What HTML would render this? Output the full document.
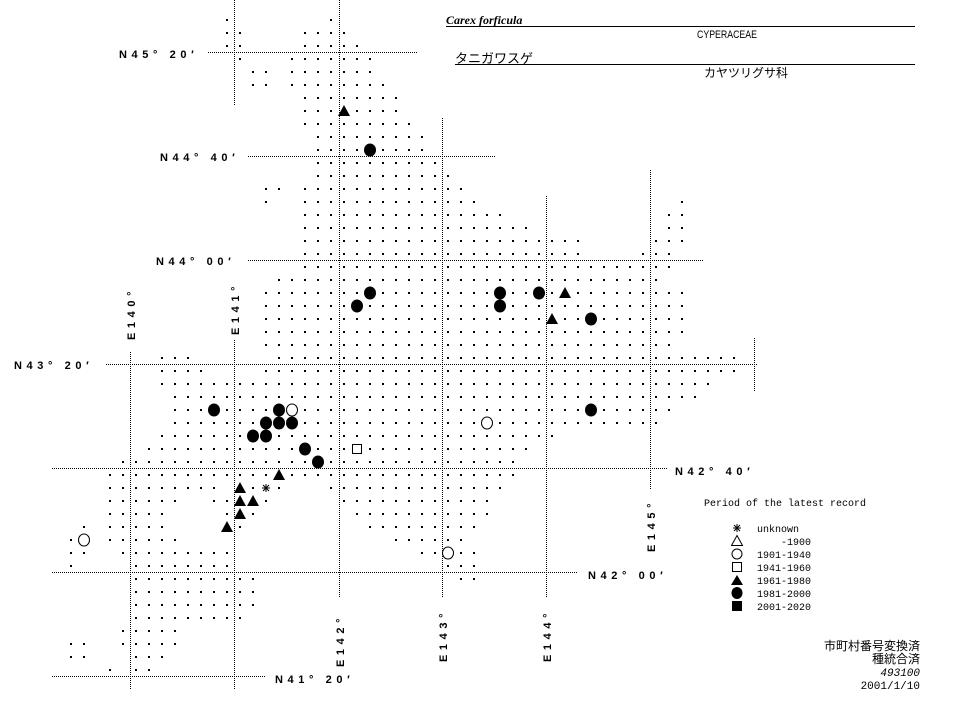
<!DOCTYPE html>
<html><head><meta charset="utf-8"><style>
html,body{margin:0;padding:0;background:#fff;}
svg{display:block;}
.lab{font-family:"Liberation Sans",sans-serif;font-weight:bold;font-size:11px;letter-spacing:4.6px;fill:#000;}
.leg{font-family:"Liberation Mono",monospace;font-size:10px;fill:#000;}
.jp{font-family:"Liberation Sans","Noto Sans CJK JP",sans-serif;fill:#000;}
</style></head><body>
<svg width="974" height="703" viewBox="0 0 974 703" xmlns="http://www.w3.org/2000/svg" shape-rendering="crispEdges">
<defs>
<pattern id="d" patternUnits="userSpaceOnUse" x="0" y="0" width="13" height="13" patternTransform="translate(226 19)">
<rect x="0" y="0" width="2" height="2" fill="#000"/>
</pattern>
</defs>
<rect width="974" height="703" fill="#fff"/>
<g stroke="#000" stroke-width="1" stroke-dasharray="1 1" fill="none">
<line x1="208" y1="52.5" x2="417" y2="52.5"/>
<line x1="248" y1="156.5" x2="495" y2="156.5"/>
<line x1="248" y1="260.5" x2="703" y2="260.5"/>
<line x1="106" y1="364.5" x2="758" y2="364.5"/>
<line x1="52" y1="468.5" x2="668" y2="468.5"/>
<line x1="52" y1="572.5" x2="577" y2="572.5"/>
<line x1="52" y1="676.5" x2="265" y2="676.5"/>
<line x1="234.5" y1="0" x2="234.5" y2="105"/>
<line x1="234.5" y1="340" x2="234.5" y2="690"/>
<line x1="339.5" y1="0" x2="339.5" y2="598"/>
<line x1="442.5" y1="118" x2="442.5" y2="598"/>
<line x1="546.5" y1="196" x2="546.5" y2="598"/>
<line x1="650.5" y1="170" x2="650.5" y2="490"/>
<line x1="754.5" y1="338" x2="754.5" y2="392"/>
<line x1="130.5" y1="352" x2="130.5" y2="690"/>
</g>
<g fill="url(#d)">
<rect x="226" y="19" width="13" height="13"/><rect x="330" y="19" width="13" height="13"/>
<rect x="226" y="32" width="26" height="13"/><rect x="304" y="32" width="52" height="13"/>
<rect x="226" y="45" width="26" height="13"/><rect x="304" y="45" width="65" height="13"/>
<rect x="239" y="58" width="13" height="13"/><rect x="291" y="58" width="91" height="13"/>
<rect x="252" y="71" width="26" height="13"/><rect x="291" y="71" width="91" height="13"/>
<rect x="252" y="84" width="26" height="13"/><rect x="291" y="84" width="104" height="13"/>
<rect x="304" y="97" width="104" height="13"/>
<rect x="304" y="110" width="104" height="13"/>
<rect x="304" y="123" width="117" height="13"/>
<rect x="317" y="136" width="117" height="13"/>
<rect x="317" y="149" width="117" height="13"/>
<rect x="317" y="162" width="130" height="13"/>
<rect x="317" y="175" width="143" height="13"/>
<rect x="265" y="188" width="26" height="13"/><rect x="304" y="188" width="169" height="13"/>
<rect x="265" y="201" width="13" height="13"/><rect x="304" y="201" width="182" height="13"/><rect x="681" y="201" width="13" height="13"/>
<rect x="304" y="214" width="208" height="13"/><rect x="668" y="214" width="26" height="13"/>
<rect x="304" y="227" width="234" height="13"/><rect x="668" y="227" width="26" height="13"/>
<rect x="304" y="240" width="286" height="13"/><rect x="655" y="240" width="39" height="13"/>
<rect x="304" y="253" width="286" height="13"/><rect x="642" y="253" width="39" height="13"/>
<rect x="304" y="266" width="377" height="13"/>
<rect x="278" y="279" width="390" height="13"/>
<rect x="265" y="292" width="429" height="13"/>
<rect x="265" y="305" width="429" height="13"/>
<rect x="265" y="318" width="429" height="13"/>
<rect x="265" y="331" width="429" height="13"/>
<rect x="265" y="344" width="416" height="13"/>
<rect x="161" y="357" width="39" height="13"/><rect x="278" y="357" width="468" height="13"/>
<rect x="161" y="370" width="52" height="13"/><rect x="265" y="370" width="481" height="13"/>
<rect x="161" y="383" width="559" height="13"/>
<rect x="174" y="396" width="533" height="13"/>
<rect x="174" y="409" width="507" height="13"/>
<rect x="174" y="422" width="494" height="13"/>
<rect x="161" y="435" width="403" height="13"/>
<rect x="148" y="448" width="390" height="13"/>
<rect x="122" y="461" width="403" height="13"/>
<rect x="109" y="474" width="416" height="13"/>
<rect x="109" y="487" width="117" height="13"/><rect x="252" y="487" width="13" height="13"/><rect x="278" y="487" width="13" height="13"/><rect x="330" y="487" width="182" height="13"/>
<rect x="109" y="500" width="78" height="13"/><rect x="213" y="500" width="26" height="13"/><rect x="265" y="500" width="13" height="13"/><rect x="343" y="500" width="156" height="13"/>
<rect x="109" y="513" width="65" height="13"/><rect x="226" y="513" width="13" height="13"/><rect x="252" y="513" width="13" height="13"/><rect x="356" y="513" width="143" height="13"/>
<rect x="83" y="526" width="13" height="13"/><rect x="109" y="526" width="65" height="13"/><rect x="239" y="526" width="13" height="13"/><rect x="369" y="526" width="117" height="13"/>
<rect x="70" y="539" width="13" height="13"/><rect x="109" y="539" width="78" height="13"/><rect x="395" y="539" width="78" height="13"/>
<rect x="70" y="552" width="26" height="13"/><rect x="122" y="552" width="117" height="13"/><rect x="421" y="552" width="26" height="13"/><rect x="460" y="552" width="26" height="13"/>
<rect x="70" y="565" width="13" height="13"/><rect x="135" y="565" width="104" height="13"/><rect x="447" y="565" width="39" height="13"/>
<rect x="135" y="578" width="130" height="13"/><rect x="460" y="578" width="26" height="13"/>
<rect x="135" y="591" width="130" height="13"/>
<rect x="135" y="604" width="130" height="13"/>
<rect x="135" y="617" width="117" height="13"/>
<rect x="122" y="630" width="65" height="13"/>
<rect x="70" y="643" width="26" height="13"/><rect x="122" y="643" width="65" height="13"/>
<rect x="70" y="656" width="26" height="13"/><rect x="135" y="656" width="39" height="13"/>
<rect x="109" y="669" width="13" height="13"/><rect x="135" y="669" width="26" height="13"/>
</g>
<g shape-rendering="auto">
<g fill="#000">
<ellipse cx="370" cy="150" rx="6" ry="6.5"/>
<ellipse cx="370" cy="293" rx="6" ry="6.5"/>
<ellipse cx="500" cy="293" rx="6" ry="6.5"/>
<ellipse cx="539" cy="293" rx="6" ry="6.5"/>
<ellipse cx="357" cy="306" rx="6" ry="6.5"/>
<ellipse cx="500" cy="306" rx="6" ry="6.5"/>
<ellipse cx="591" cy="319" rx="6" ry="6.5"/>
<ellipse cx="214" cy="410" rx="6" ry="6.5"/>
<ellipse cx="279" cy="410" rx="6" ry="6.5"/>
<ellipse cx="591" cy="410" rx="6" ry="6.5"/>
<ellipse cx="266" cy="423" rx="6" ry="6.5"/>
<ellipse cx="279" cy="423" rx="6" ry="6.5"/>
<ellipse cx="292" cy="423" rx="6" ry="6.5"/>
<ellipse cx="253" cy="436" rx="6" ry="6.5"/>
<ellipse cx="266" cy="436" rx="6" ry="6.5"/>
<ellipse cx="305" cy="449" rx="6" ry="6.5"/>
<ellipse cx="318" cy="462" rx="6" ry="6.5"/>
<polygon points="344,105 350,116 338,116"/>
<polygon points="565,287 571,298 559,298"/>
<polygon points="552,313 558,324 546,324"/>
<polygon points="279,469 285,480 273,480"/>
<polygon points="240,482 246,493 234,493"/>
<polygon points="240,495 246,506 234,506"/>
<polygon points="253,495 259,506 247,506"/>
<polygon points="240,508 246,519 234,519"/>
<polygon points="227,521 233,532 221,532"/>
</g>
<g fill="#fff" stroke="#000" stroke-width="1">
<ellipse cx="292" cy="410" rx="5.5" ry="6"/>
<ellipse cx="487" cy="423" rx="5.5" ry="6"/>
<ellipse cx="84" cy="540" rx="5.5" ry="6"/>
<ellipse cx="448" cy="553" rx="5.5" ry="6"/>
<rect x="352.5" y="444.5" width="9" height="9"/>
</g>
<g stroke="#000" stroke-width="1">
<line x1="262" y1="488" x2="270" y2="488"/><line x1="266" y1="484" x2="266" y2="492"/>
<line x1="263" y1="485" x2="269" y2="491"/><line x1="269" y1="485" x2="263" y2="491"/>
</g>
<text class="lab" x="119" y="58">N45° 20′</text>
<text class="lab" x="160" y="161">N44° 40′</text>
<text class="lab" x="156" y="265">N44° 00′</text>
<text class="lab" x="14" y="369">N43° 20′</text>
<text class="lab" x="675" y="475">N42° 40′</text>
<text class="lab" x="588" y="579">N42° 00′</text>
<text class="lab" x="275" y="683">N41° 20′</text>
<text class="lab" transform="translate(135 340) rotate(-90)">E140°</text>
<text class="lab" transform="translate(239 335) rotate(-90)">E141°</text>
<text class="lab" transform="translate(344 667) rotate(-90)">E142°</text>
<text class="lab" transform="translate(447 662) rotate(-90)">E143°</text>
<text class="lab" transform="translate(551 662) rotate(-90)">E144°</text>
<text class="lab" transform="translate(655 552) rotate(-90)">E145°</text>
<text x="446" y="24" style="font-family:'Liberation Serif',serif;font-style:italic;font-weight:bold;font-size:12px;">Carex forficula</text>
<line x1="446" y1="26.5" x2="915" y2="26.5" stroke="#000"/>
<text class="jp" x="697" y="38" style="font-size:11px;" textLength="60" lengthAdjust="spacingAndGlyphs">CYPERACEAE</text>
<text class="jp" x="455" y="63" style="font-size:13px;">タニガワスゲ</text>
<line x1="455" y1="64.5" x2="915" y2="64.5" stroke="#000"/>
<text class="jp" x="704" y="77" style="font-size:12px;">カヤツリグサ科</text>
<text class="leg" x="704" y="506" textLength="162" lengthAdjust="spacingAndGlyphs">Period of the latest record</text>
<g stroke="#000" stroke-width="1">
<line x1="733" y1="528" x2="741" y2="528"/><line x1="737" y1="524" x2="737" y2="532"/>
<line x1="734" y1="525" x2="740" y2="531"/><line x1="740" y1="525" x2="734" y2="531"/>
</g>
<polygon points="737,535.5 742.5,545.5 731.5,545.5" fill="#fff" stroke="#000"/>
<circle cx="737" cy="554" r="5" fill="#fff" stroke="#000"/>
<rect x="732.5" y="562.5" width="9" height="9" fill="#fff" stroke="#000"/>
<polygon points="737,575 743,585 731,585" fill="#000"/>
<ellipse cx="737" cy="593" rx="5.5" ry="6" fill="#000"/>
<rect x="732" y="601" width="10" height="10" fill="#000"/>
<text class="leg" x="757" y="532">unknown</text>
<text class="leg" x="811" y="545" text-anchor="end">-1900</text>
<text class="leg" x="757" y="558">1901-1940</text>
<text class="leg" x="757" y="571">1941-1960</text>
<text class="leg" x="757" y="584">1961-1980</text>
<text class="leg" x="757" y="597">1981-2000</text>
<text class="leg" x="757" y="610">2001-2020</text>
<text class="jp" x="920" y="650" text-anchor="end" style="font-size:12px;">市町村番号変換済</text>
<text class="jp" x="920" y="663" text-anchor="end" style="font-size:12px;">種統合済</text>
<text class="leg" x="920" y="676" text-anchor="end" style="font-style:italic;font-size:11px;">493100</text>
<text class="leg" x="920" y="689" text-anchor="end" style="font-size:11px;">2001/1/10</text>
</g>
</svg>
</body></html>
